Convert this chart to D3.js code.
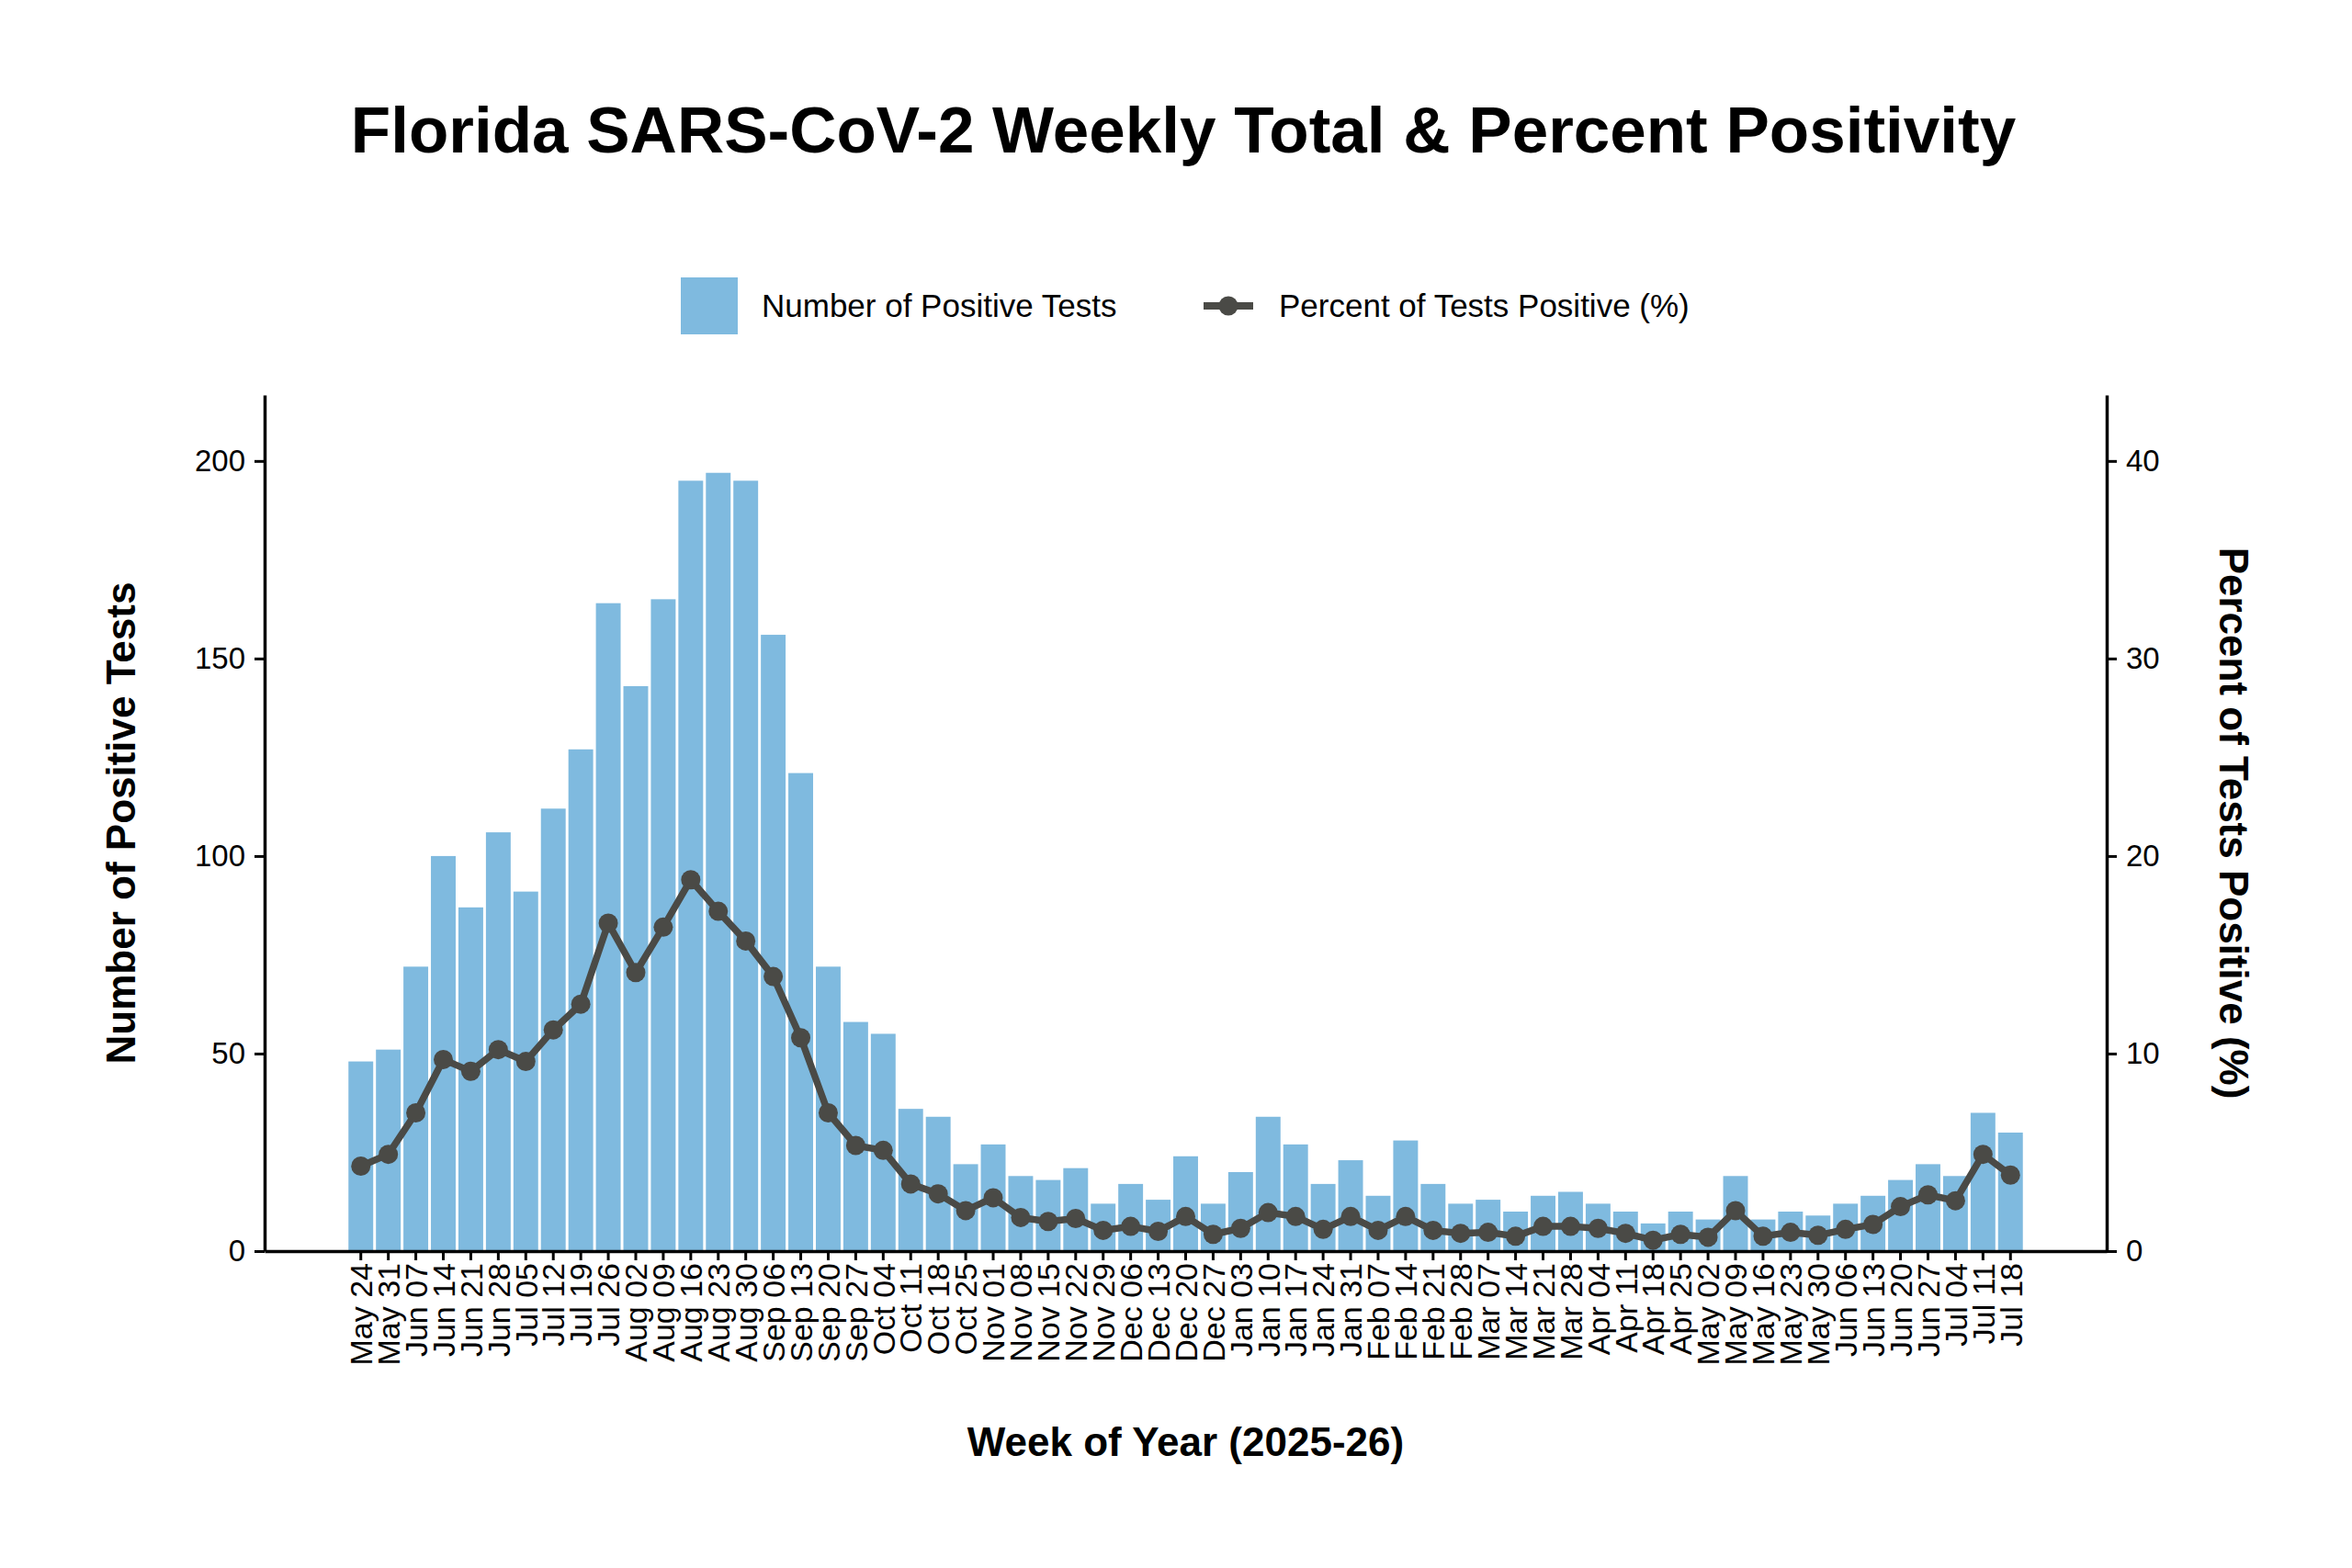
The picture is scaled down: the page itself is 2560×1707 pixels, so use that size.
<!DOCTYPE html>
<html>
<head>
<meta charset="utf-8">
<script src="https://cdn.jsdelivr.net/npm/d3@7"></script>
<style>
  html, body { margin: 0; padding: 0; background: #fff; }
  text { font-family: "Liberation Sans", Arial, sans-serif; }
</style>
</head>
<body>
<div id="chart"></div>
<script>
// weekly data
const weeks = [
  "May 24","May 31","Jun 07","Jun 14","Jun 21","Jun 28","Jul 05","Jul 12","Jul 19","Jul 26",
  "Aug 02","Aug 09","Aug 16","Aug 23","Aug 30","Sep 06","Sep 13","Sep 20","Sep 27","Oct 04",
  "Oct 11","Oct 18","Oct 25","Nov 01","Nov 08","Nov 15","Nov 22","Nov 29","Dec 06","Dec 13",
  "Dec 20","Dec 27","Jan 03","Jan 10","Jan 17","Jan 24","Jan 31","Feb 07","Feb 14","Feb 21",
  "Feb 28","Mar 07","Mar 14","Mar 21","Mar 28","Apr 04","Apr 11","Apr 18","Apr 25","May 02",
  "May 09","May 16","May 23","May 30","Jun 06","Jun 13","Jun 20","Jun 27","Jul 04","Jul 11",
  "Jul 18"
];

const positives = [
  48, 51, 72, 100, 87, 106, 91, 112, 127, 164,
  143, 165, 195, 197, 195, 156, 121, 72, 58, 55,
  36, 34, 22, 27, 19, 18, 21, 12, 17, 13,
  24, 12, 20, 34, 27, 17, 23, 14, 28, 17,
  12, 13, 10, 14, 15, 12, 10, 7, 10, 8,
  19, 8, 10, 9, 12, 14, 18, 22, 19, 35,
  30
];

const percents = [
  4.3, 4.9, 7.0, 9.7, 9.1, 10.2, 9.6, 11.2, 12.5, 16.6,
  14.1, 16.4, 18.8, 17.2, 15.7, 13.9, 10.8, 7.0, 5.35, 5.1,
  3.4, 2.9, 2.05, 2.7, 1.7, 1.5, 1.65, 1.05, 1.25, 1.0,
  1.75, 0.85, 1.15, 1.95, 1.75, 1.1, 1.75, 1.05, 1.75, 1.05,
  0.9, 0.95, 0.75, 1.25, 1.25, 1.15, 0.9, 0.55, 0.85, 0.7,
  2.05, 0.75, 0.95, 0.8, 1.1, 1.35, 2.25, 2.85, 2.55, 4.9,
  3.85
];

const leftTicks = [0, 50, 100, 150, 200];
const rightTicks = [0, 10, 20, 30, 40];

const width = 2560;
const height = 1707;
const plot = { left: 288, right: 2293, top: 430, bottom: 1362 };

const barColor = "#7fbadf";
const lineColor = "#4a4a46";

const svg = d3.select("#chart")
  .append("svg")
  .attr("width", width)
  .attr("height", height)
  .style("display", "block");

svg.append("rect").attr("width", width).attr("height", height).attr("fill", "#fff");

// scales (count axis top = max * 1.1, percent axis is count / 5)
const yMax = d3.max(positives) * 1.1;
const x = d3.scaleBand()
  .domain(weeks)
  .range([plot.left, plot.right])
  .paddingInner(0.1)
  .paddingOuter(3.05);

const yLeft = d3.scaleLinear().domain([0, yMax]).range([plot.bottom, plot.top]);
const yRight = d3.scaleLinear().domain([0, yMax / 5]).range([plot.bottom, plot.top]);

// bars
svg.append("g")
  .selectAll("rect")
  .data(weeks)
  .join("rect")
  .attr("x", d => x(d))
  .attr("width", x.bandwidth())
  .attr("y", (d, i) => yLeft(positives[i]))
  .attr("height", (d, i) => plot.bottom - yLeft(positives[i]))
  .attr("fill", barColor);

// percent line
const line = d3.line()
  .x((d, i) => x(weeks[i]) + x.bandwidth() / 2)
  .y(d => yRight(d));

svg.append("path")
  .datum(percents)
  .attr("d", line)
  .attr("fill", "none")
  .attr("stroke", lineColor)
  .attr("stroke-width", 7.5)
  .attr("stroke-linejoin", "round");

svg.append("g")
  .selectAll("circle")
  .data(percents)
  .join("circle")
  .attr("cx", (d, i) => x(weeks[i]) + x.bandwidth() / 2)
  .attr("cy", d => yRight(d))
  .attr("r", 10.5)
  .attr("fill", lineColor);

// axes
function styleAxis(g, fontSize) {
  g.select(".domain").attr("stroke", "#000").attr("stroke-width", 3.5);
  g.selectAll(".tick line").attr("stroke", "#000").attr("stroke-width", 3);
  g.selectAll(".tick text")
    .attr("fill", "#000")
    .style("font-family", "'Liberation Sans', Arial, sans-serif")
    .style("font-size", fontSize + "px");
}

svg.append("g")
  .attr("transform", `translate(${plot.left},0)`)
  .call(d3.axisLeft(yLeft).tickValues(leftTicks).tickSize(11).tickSizeOuter(0).tickPadding(10))
  .call(g => styleAxis(g, 33));

svg.append("g")
  .attr("transform", `translate(${plot.right},0)`)
  .call(d3.axisRight(yRight).tickValues(rightTicks).tickSize(11).tickSizeOuter(0).tickPadding(10))
  .call(g => styleAxis(g, 33));

const xAxis = svg.append("g")
  .attr("transform", `translate(0,${plot.bottom})`)
  .call(d3.axisBottom(x).tickSize(10).tickSizeOuter(0))
  .call(g => styleAxis(g, 34));

xAxis.selectAll(".tick text")
  .attr("transform", "rotate(-90)")
  .attr("text-anchor", "end")
  .attr("x", -13)
  .attr("y", 0)
  .attr("dy", "0.36em");

// titles
svg.append("text")
  .attr("x", 1288)
  .attr("y", 166)
  .attr("text-anchor", "middle")
  .style("font-size", "71px")
  .style("font-weight", "bold")
  .text("Florida SARS-CoV-2 Weekly Total & Percent Positivity");

svg.append("text")
  .attr("x", (plot.left + plot.right) / 2)
  .attr("y", 1585)
  .attr("text-anchor", "middle")
  .style("font-size", "44px")
  .style("font-weight", "bold")
  .text("Week of Year (2025-26)");

svg.append("text")
  .attr("transform", `translate(147,${(plot.top + plot.bottom) / 2}) rotate(-90)`)
  .attr("text-anchor", "middle")
  .style("font-size", "44px")
  .style("font-weight", "bold")
  .text("Number of Positive Tests");

svg.append("text")
  .attr("transform", `translate(2416,${(plot.top + plot.bottom) / 2}) rotate(90)`)
  .attr("text-anchor", "middle")
  .style("font-size", "44px")
  .style("font-weight", "bold")
  .text("Percent of Tests Positive (%)");

// legend
const legend = svg.append("g");
legend.append("rect")
  .attr("x", 741).attr("y", 302)
  .attr("width", 62).attr("height", 62)
  .attr("fill", barColor);
legend.append("text")
  .attr("x", 829).attr("y", 345)
  .style("font-size", "35px")
  .text("Number of Positive Tests");
legend.append("line")
  .attr("x1", 1310).attr("x2", 1364)
  .attr("y1", 333).attr("y2", 333)
  .attr("stroke", lineColor)
  .attr("stroke-width", 8);
legend.append("circle")
  .attr("cx", 1337).attr("cy", 333).attr("r", 10.5)
  .attr("fill", lineColor);
legend.append("text")
  .attr("x", 1392).attr("y", 345)
  .style("font-size", "35px")
  .text("Percent of Tests Positive (%)");
</script>
</body>
</html>
